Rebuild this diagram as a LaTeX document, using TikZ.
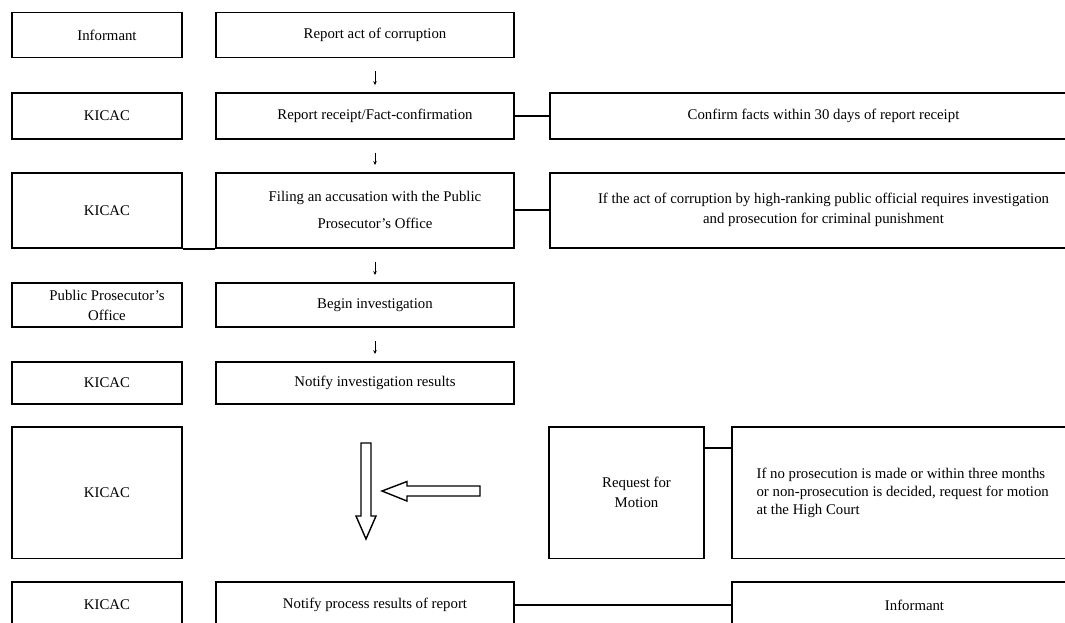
\documentclass[tikz,border=0pt]{standalone}
\usepackage{fontspec}
\setmainfont{Liberation Serif}
\usetikzlibrary{arrows.meta}
\tikzset{
  box/.style={draw, line width=1.9pt, inner sep=0pt},
  txt/.style={xshift=10pt, align=center},
  link/.style={line width=1.9pt},
  down/.style={-{Stealth[length=4pt,width=3.5pt]}, line width=0.8pt, shorten <=13pt, shorten >=7pt},
  hollow/.style={line width=1.4pt, line join=miter}
}

\begin{document}
\begin{tikzpicture}[x=1pt,y=-1pt,font=\fontsize{14.8}{20}\selectfont]
        \clip (0,0) rectangle (1065,622);
        \fill[white] (0,0) rectangle (1065,622);
        % First row
        \node[box, minimum width=170pt, minimum height=45pt, label={[txt]center:Informant}] (inf1) at (97,35) {};
        \node[box, minimum width=298pt, minimum height=45pt, label={[txt]center:Report act of corruption}] (rep1) at (365,35) {};

        % Second row
        \node[box, minimum width=170pt, minimum height=45.5pt, label={[txt]center:KICAC}] (kic2) at (97,115.8) {};
        \node[box, minimum width=298pt, minimum height=45.5pt, label={[txt]center:Report receipt/Fact-confirmation}] (rec2) at (365,115.8) {};
        \node[box, minimum width=527pt, minimum height=45.5pt, label={[txt]center:Confirm facts within 30 days of report receipt}] (con2) at (813.5,115.8) {};

        % Third row
        \node[box, minimum width=170pt, minimum height=74.7pt, label={[txt]center:KICAC}] (kic3) at (97,210.3) {};
        \node[box, minimum width=298pt, minimum height=74.7pt, label={[txt]center:{Filing an accusation with the Public\\[7pt]Prosecutor's Office}}] (fil3) at (365,210.3) {};
        \node[box, minimum width=527pt, minimum height=74.7pt, label={[txt]center:{If the act of corruption by high-ranking public official requires investigation\\and prosecution for criminal punishment}}] (crit3) at (813.5,210.3) {};

        % Fourth row
        \node[box, minimum width=170pt, minimum height=44pt, label={[txt]center:{Public Prosecutor's\\Office}}] (ppo4) at (97,305) {};
        \node[box, minimum width=298pt, minimum height=44pt, label={[txt]center:Begin investigation}] (beg4) at (365,305) {};

        % Fifth row
        \node[box, minimum width=170pt, minimum height=42pt, label={[txt]center:KICAC}] (kic5) at (97,383) {};
        \node[box, minimum width=298pt, minimum height=42pt, label={[txt]center:Notify investigation results}] (not5) at (365,383) {};

        % Sixth row
        \node[box, minimum width=170pt, minimum height=131.5pt, label={[txt]center:KICAC}] (kic6) at (97,492.7) {};
        \node[box, minimum width=155pt, minimum height=131.5pt, label={[txt]center:{Request for\\Motion}}] (req6) at (626.5,492.7) {};
        \node[box, minimum width=345pt, minimum height=131.5pt, label={[align=left, anchor=west, xshift=22pt]west:{If no prosecution is made or within three months\\[-2pt]or non-prosecution is decided, request for motion\\[-2pt]at the High Court}}] (mot6) at (904.5,492.7) {};

        % Last row
        \node[box, minimum width=170pt, minimum height=46pt, label={[txt]center:KICAC}] (kic7) at (97,605) {};
        \node[box, minimum width=298pt, minimum height=46pt, label={[txt]center:Notify process results of report}] (not7) at (365,605) {};
        \node[box, minimum width=345pt, minimum height=46pt, label={[txt]center:Informant}] (inf7) at (904.5,605) {};

        % Connectors
        \draw[link] (rec2) -- (con2);
        \draw[link] (fil3) -- (crit3);
        \draw[link] (kic3.south east) -- (fil3.south west);
        \draw[link] ([yshift=-22pt]req6.north east) -- ([yshift=-22pt]mot6.north west);
        \draw[link] (not7) -- (inf7);

        % Small arrows
        \draw[down] ([xshift=10pt]rep1.south) -- ([xshift=10pt]rec2.north);
        \draw[down] ([xshift=10pt]rec2.south) -- ([xshift=10pt]fil3.north);
        \draw[down] ([xshift=10pt]fil3.south) -- ([xshift=10pt]beg4.north);
        \draw[down] ([xshift=10pt]beg4.south) -- ([xshift=10pt]not5.north);

        % Hollow arrows
        \draw[hollow] (361,443) -- (371,443) -- (371,516) -- (376,516) -- (366,539) -- (356,516) -- (361,516) -- cycle;
        \draw[hollow] (480,486) -- (480,496) -- (407,496) -- (407,501) -- (382,491) -- (407,481.5) -- (407,486) -- cycle;
\end{tikzpicture}
\end{document}
